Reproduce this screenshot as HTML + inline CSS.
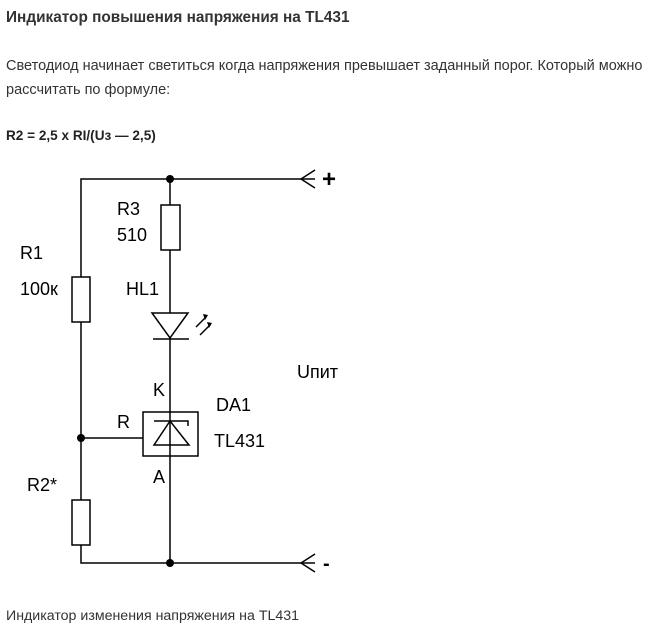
<!DOCTYPE html>
<html><head><meta charset="utf-8"><style>
body{margin:0;background:#fff;width:670px;height:632px;overflow:hidden;font-family:"Liberation Sans",sans-serif;}
.t{position:absolute;color:#222;white-space:nowrap}
</style></head><body>
<div class="t" style="left:6px;top:9px;font-size:16px;font-weight:bold;color:#333;transform:scaleX(0.96);transform-origin:left">Индикатор повышения напряжения на TL431</div>
<div class="t" style="left:6px;top:58px;font-size:14.5px;color:#333">Светодиод начинает светиться когда напряжения превышает заданный порог. Который можно</div>
<div class="t" style="left:6px;top:82px;font-size:14.5px;color:#333">рассчитать по формуле:</div>
<div class="t" style="left:6px;top:127px;font-size:14px;font-weight:bold;color:#222;transform:scaleX(0.97);transform-origin:left">R2 = 2,5 x RI/(Uз — 2,5)</div>
<div class="t" style="left:6px;top:608px;font-size:14.2px;color:#333">Индикатор изменения напряжения на TL431</div>
<svg width="670" height="632" style="position:absolute;left:0;top:0" font-family="Liberation Sans, sans-serif" font-size="18" fill="#000">
<g stroke="#000" stroke-width="1.5" fill="none">
<polyline points="81,277 81,179 315,179"/>
<polyline points="315,170 301,179 315,188"/>
<line x1="81" y1="322" x2="81" y2="500"/>
<polyline points="81,545 81,563 315,563"/>
<polyline points="315,554 301,563 315,572"/>
<line x1="170" y1="179" x2="170" y2="205"/>
<rect x="161" y="205" width="19" height="45" fill="#fff"/>
<rect x="72" y="277" width="18" height="45" fill="#fff"/>
<rect x="72" y="500" width="18" height="45" fill="#fff"/>
<line x1="170" y1="250" x2="170" y2="563"/>
<polygon points="152,313 188,313 170,338" fill="#fff"/>
<line x1="153" y1="339" x2="189" y2="339"/>
<line x1="196" y1="327" x2="206" y2="317"/>
<line x1="200" y1="335" x2="210" y2="325"/>
<line x1="81" y1="438" x2="143" y2="438"/>
<rect x="143" y="412" width="55" height="44" fill="#fff"/>
<line x1="170" y1="412" x2="170" y2="456"/>
<polyline points="154,421 188,421 188,426"/>
<polygon points="170,421 154,445 189,445"/>
</g>
<polygon points="203,314 208,315 205,320"/>
<polygon points="207,322 212,323 209,328"/>
<circle cx="170" cy="179" r="4"/>
<circle cx="81" cy="438" r="4"/>
<circle cx="170" cy="563" r="4"/>
<text x="117" y="215">R3</text>
<text x="117" y="241">510</text>
<text x="20" y="259">R1</text>
<text x="20" y="295">100к</text>
<text x="126" y="295">HL1</text>
<text x="297" y="378">Uпит</text>
<text x="153" y="396">K</text>
<text x="216" y="411">DA1</text>
<text x="117" y="428">R</text>
<text x="214" y="447">TL431</text>
<text x="153" y="483">A</text>
<text x="27" y="491">R2*</text>
<text x="322" y="187" font-size="24" font-weight="bold">+</text>
<text x="323" y="570" font-size="20" font-weight="bold">-</text>
</svg>
</body></html>
